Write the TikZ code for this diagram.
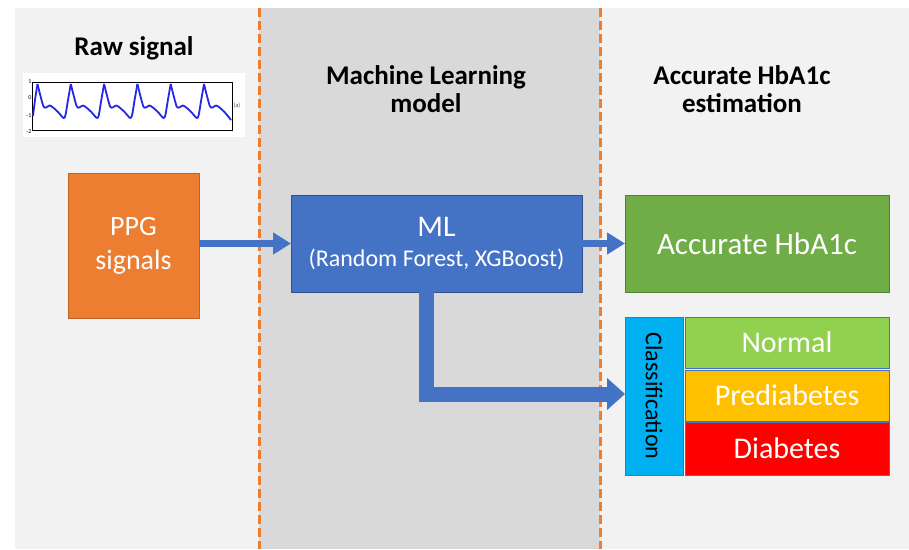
\documentclass[tikz,border=0pt]{standalone}
\usepackage{fontspec}
\setmainfont{Carlito}
\usetikzlibrary{arrows.meta}
\definecolor{bgpanel}{HTML}{F2F2F2}
\definecolor{midpanel}{HTML}{D9D9D9}
\definecolor{dashorange}{HTML}{ED7D31}
\definecolor{ppgfill}{HTML}{ED7D31}
\definecolor{ppgborder}{HTML}{C0622A}
\definecolor{mlblue}{HTML}{4472C4}
\definecolor{mlborder}{HTML}{2F528F}
\definecolor{accgreen}{HTML}{70AD47}
\definecolor{accborder}{HTML}{507E32}
\definecolor{clsblue}{HTML}{00B0F0}
\definecolor{normgreen}{HTML}{92D050}
\definecolor{prediab}{HTML}{FFC000}
\definecolor{diabred}{HTML}{FF0000}
\definecolor{wave}{HTML}{2626E6}
\tikzset{
  dashline/.style={dashorange, line width=3pt, dash pattern=on 9pt off 4pt},
  header/.style={font=\bfseries\fontsize{27}{28}\selectfont, align=center, text=black},
  boxbase/.style={inner sep=0pt, outer sep=0pt, text=white, align=center},
  catbox/.style={boxbase, draw=mlblue, line width=1pt, minimum width=204pt, font=\fontsize{30}{34}\selectfont},
  thinarrow/.style={draw=mlblue, line width=7pt, -{Triangle[length=18pt,width=21pt]}},
  thickarrow/.style={draw=mlblue, line width=15pt, line join=miter, -{Triangle[length=18pt,width=31pt]}},
  wavestyle/.style={wave, line width=1.8pt, line join=round}
}
\begin{document}
\begin{tikzpicture}[x=1pt,y=-1pt]
\useasboundingbox (0,0) rectangle (909,549);
\fill[white] (0,0) rectangle (909,549);
\fill[bgpanel] (15,8) rectangle (909,549);
\fill[midpanel] (259,8) rectangle (600,549);
\draw[dashline] (259,8) -- (259,549);
\draw[dashline] (600,8) -- (600,549);

% headers
\node[header] (h1) at (134,48) {Raw signal};
\node[header] (h2) at (426,89) {Machine Learning\\model};
\node[header] (h3) at (742,89) {Accurate HbA1c\\estimation};

% raw signal plot
\fill[white] (23,73) rectangle (245,137);
\draw[black, line width=0.8pt] (32,82) rectangle (232,130);
\node[font=\fontsize{6}{6}\selectfont, anchor=east, inner sep=0.5pt] (t1) at (32,82) {1};
\node[font=\fontsize{6}{6}\selectfont, anchor=east, inner sep=0.5pt] (t0) at (32,98) {0};
\node[font=\fontsize{6}{6}\selectfont, anchor=east, inner sep=0.5pt] (tm1) at (32,116) {-1};
\node[font=\fontsize{6}{6}\selectfont, anchor=east, inner sep=0.5pt] (tm2) at (32,132) {-2};
\node[font=\fontsize{6}{6}\selectfont, anchor=west, inner sep=0.5pt, text=black!70] (ta) at (233,106) {(a)};
\draw[wavestyle] plot[smooth, tension=0.5] coordinates {(33,116) (35,100) (37.5,84)};
\foreach \k in {0,...,4} {
  \draw[wavestyle] plot[smooth, tension=0.5] coordinates {
    ({37.5+33.3*\k},84) ({40.5+33.3*\k},96) ({43.5+33.3*\k},106.5) ({46+33.3*\k},107.5)
    ({49.5+33.3*\k},105.5) ({53+33.3*\k},107.5) ({58+33.3*\k},112) ({63.5+33.3*\k},118)
    ({65.5+33.3*\k},115) ({68+33.3*\k},100) ({70.8+33.3*\k},84)};
}
\draw[wavestyle] plot[smooth, tension=0.5] coordinates {
  (204,84) (207,96) (210,106.5) (212.5,107.5) (216,105.5) (219.5,107.5) (224.5,112) (231,120)};

% boxes
\node[boxbase, fill=ppgfill, draw=ppgborder, line width=1pt, minimum width=131pt, minimum height=145pt,
      font=\fontsize{28}{34}\selectfont] (ppg) at (133.5,245.5) {PPG\\signals};
\node[boxbase, fill=mlblue, draw=mlborder, line width=1pt, minimum width=291pt, minimum height=97pt] (ml) at (436.5,243.5)
  {{\fontsize{30}{32}\selectfont ML}\\[11pt]{\fontsize{24}{26}\selectfont (Random Forest, XGBoost)}};
\node[boxbase, fill=accgreen, draw=accborder, line width=1pt, minimum width=264pt, minimum height=97pt,
      font=\fontsize{31}{34}\selectfont] (acc) at (757,243.5) {Accurate HbA1c};

\node[boxbase, fill=clsblue, draw=mlblue, line width=1pt, minimum width=58pt, minimum height=158pt] (cls) at (654,396) {};
\node[rotate=-90, font=\fontsize{24}{26}\selectfont, text=black, inner sep=0pt] (clstext) at (cls.center) {Classification};
\node[catbox, fill=normgreen, minimum height=51pt] (normal) at (787,342.5) {Normal};
\node[catbox, fill=prediab, minimum height=51pt] (pre) at (787,395.5) {Prediabetes};
\node[catbox, fill=diabred, minimum height=53pt] (diab) at (787,448.5) {Diabetes};

% arrows
\draw[thinarrow] (ppg.east |- 0,243.5) -- (ml.west);
\draw[thinarrow] (ml.east) -- (acc.west);
\coordinate (bend) at (426.5,394);
\draw[thickarrow] (ml.south -| bend) -- (bend) -- (bend -| cls.west);
\end{tikzpicture}
\end{document}
